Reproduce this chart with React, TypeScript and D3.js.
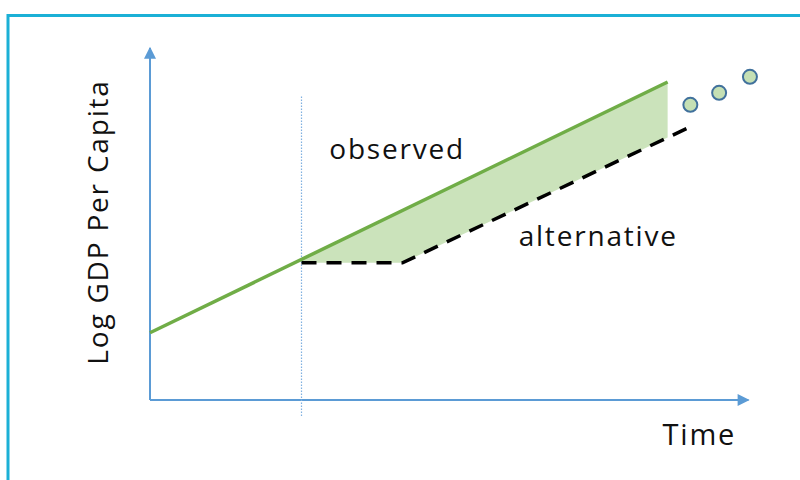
import React, { useRef, useEffect } from 'react';
import * as d3 from 'd3';

// time units on x, log GDP per capita on y
var observedT = [0, 10.25];
var observedY = [1.68, 7.95];
var breakT = 3;
var alternativeT = [3, 5, 10.65];
var alternativeY = [3.43, 3.43, 6.8];
var dotsT = [10.7, 11.27, 11.88];
var dotsY = [7.38, 7.68, 8.08];
var labels = { observed: 'observed', alternative: 'alternative', x: 'Time', y: 'Log GDP Per Capita' };

var width = 800;
var height = 480;
var x = d3.scaleLinear().domain([0, 12]).range([150, 756]);
var y = d3.scaleLinear().domain([0, 8.8]).range([400, 48]);

var axisColor = '#5b9bd5';
var green = '#70ad47';
var fill = '#c5e0b4';
var font = '"Open Sans", sans-serif';

export default function App() {
  const ref = useRef(null);
  useEffect(() => {
    var svg = d3.select(ref.current);
    svg.selectAll('*').remove();

    // frame
    svg
      .append('path')
      .attr('d', 'M8,490 L8,15.5 L810,15.5')
      .attr('fill', 'none')
      .attr('stroke', '#1bb0d6')
      .attr('stroke-width', 3);

    var defs = svg.append('defs');
    defs
      .append('marker')
      .attr('id', 'arrow')
      .attr('viewBox', '0 0 10 10')
      .attr('refX', 9)
      .attr('refY', 5)
      .attr('markerWidth', 7)
      .attr('markerHeight', 6)
      .attr('markerUnits', 'strokeWidth')
      .attr('orient', 'auto')
      .append('path')
      .attr('d', 'M0,0 L10,5 L0,10 z')
      .attr('fill', axisColor);

    var line = d3
      .line()
      .x(function(d) {
        return x(d[0]);
      })
      .y(function(d) {
        return y(d[1]);
      });

    var obsPts = observedT.map((t, i) => [t, observedY[i]]);
    var altPts = alternativeT.map((t, i) => [t, alternativeY[i]]);
    var obsAt = d3.scaleLinear().domain(observedT).range(observedY);
    var altAt = d3.scaleLinear().domain(alternativeT.slice(1)).range(alternativeY.slice(1));

    // shaded gap between observed and alternative
    var endT = observedT[1];
    var top = [[breakT, obsAt(breakT)], [endT, obsAt(endT)]];
    var bottom = [[endT, altAt(endT)], [alternativeT[1], alternativeY[1]], [breakT, alternativeY[0]]];
    svg
      .append('path')
      .datum(top.concat(bottom))
      .attr('d', line.curve(d3.curveLinearClosed))
      .attr('fill', fill)
      .attr('opacity', 0.9);
    line.curve(d3.curveLinear);

    // axes
    svg
      .append('path')
      .datum([[0, 0], [0, 8.8]])
      .attr('d', line)
      .attr('stroke', axisColor)
      .attr('stroke-width', 2)
      .attr('marker-end', 'url(#arrow)');
    svg
      .append('path')
      .datum([[0, 0], [11.85, 0]])
      .attr('d', line)
      .attr('stroke', axisColor)
      .attr('stroke-width', 2)
      .attr('marker-end', 'url(#arrow)');

    // dotted break line
    svg
      .append('path')
      .datum([[breakT, -0.4], [breakT, 7.6]])
      .attr('d', line)
      .attr('stroke', '#7fb0e0')
      .attr('stroke-width', 1.2)
      .attr('stroke-dasharray', '1.5,1.5');

    svg
      .append('path')
      .datum(altPts)
      .attr('d', line)
      .attr('fill', 'none')
      .attr('stroke', '#000')
      .attr('stroke-width', 3.5)
      .attr('stroke-dasharray', '15,10');

    svg
      .append('path')
      .datum(obsPts)
      .attr('d', line)
      .attr('fill', 'none')
      .attr('stroke', green)
      .attr('stroke-width', 3.5);

    svg
      .selectAll('circle.dot')
      .data(dotsT)
      .enter()
      .append('circle')
      .attr('class', 'dot')
      .attr('cx', d => x(d))
      .attr('cy', (d, i) => y(dotsY[i]))
      .attr('r', 7)
      .attr('fill', fill)
      .attr('stroke', '#41719c')
      .attr('stroke-width', 2);

    var text = (s, tx, ty, size) =>
      svg
        .append('text')
        .attr('x', tx)
        .attr('y', ty)
        .attr('font-family', font)
        .attr('font-size', size)
        .attr('letter-spacing', 1.8)
        .attr('fill', '#111')
        .text(s);

    text(labels.observed, x(3.55), y(6.03), 28);
    text(labels.alternative, x(7.3), y(3.85), 28);
    text(labels.x, x(10.15), y(-1.12), 29);
    text(labels.y, 0, 0, 28)
      .attr('text-anchor', 'middle')
      .attr('transform', 'translate(108,' + y(4.45) + ') rotate(-90)');
  }, []);

  return <svg ref={ref} width={width} height={height} style={{ position: 'absolute', left: 0, top: 0 }} />;
}
